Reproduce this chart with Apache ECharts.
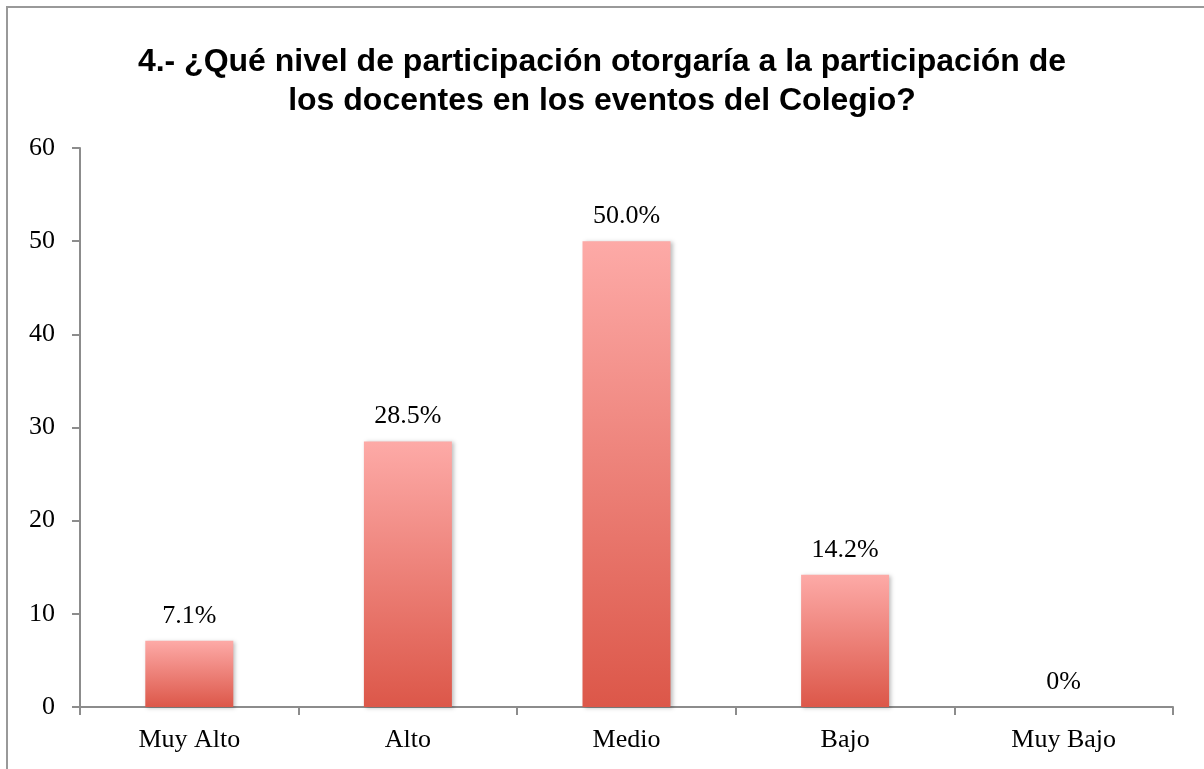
<!DOCTYPE html>
<html>
<head>
<meta charset="utf-8">
<script src="https://cdn.jsdelivr.net/npm/echarts@6/dist/echarts.min.js"></script>
<style>
    html, body { margin: 0; padding: 0; background: #fff; }
    #chart { width: 1204px; height: 769px; }
</style>
</head>
<body>
<div id="chart"></div>
<script>
const categories = ['Muy Alto', 'Alto', 'Medio', 'Bajo', 'Muy Bajo']
const values = [7.1, 28.5, 50.0, 14.2, 0]
const valueLabels = ['7.1%', '28.5%', '50.0%', '14.2%', '0%']
const titleText = '4.- ¿Qué nivel de participación otorgaría a la participación de\nlos docentes en los eventos del Colegio?'

const serif = 'Liberation Serif'
const chart = echarts.init(document.getElementById('chart'))
chart.setOption({
    animation: false,
    title: {
        text: titleText,
        left: 'center',
        top: 38,
        textStyle: {
            fontFamily: 'Liberation Sans',
            fontWeight: 'bold',
            fontSize: 32,
            lineHeight: 39,
            color: '#000'
        }
    },
    graphic: [{
        type: 'rect',
        shape: { x: 7, y: 7, width: 1400, height: 900 },
        style: { fill: 'none', stroke: '#999', lineWidth: 2 },
        silent: true
    }],
    grid: {
        left: 80,
        right: 31,
        top: 148,
        bottom: 62
    },
    xAxis: {
        type: 'category',
        data: categories,
        axisLine: { lineStyle: { color: '#8c8c8c', width: 2 } },
        axisTick: { show: true, length: 8, alignWithLabel: false, lineStyle: { color: '#8c8c8c', width: 2 } },
        axisLabel: { fontFamily: serif, fontSize: 26, color: '#000', margin: 20 }
    },
    yAxis: {
        type: 'value',
        min: 0,
        max: 60,
        interval: 10,
        splitLine: { show: false },
        axisLine: { show: true, lineStyle: { color: '#8c8c8c', width: 2 } },
        axisTick: { show: true, length: 8, lineStyle: { color: '#8c8c8c', width: 2 } },
        axisLabel: { fontFamily: serif, fontSize: 26, color: '#000', margin: 25 }
    },
    series: [{
        type: 'bar',
        data: values,
        barWidth: 88,
        itemStyle: {
            color: new echarts.graphic.LinearGradient(0, 0, 0, 1, [
                { offset: 0, color: '#fdaaa7' },
                { offset: 1, color: '#dc5749' }
            ]),
            shadowBlur: 4,
            shadowOffsetX: 2,
            shadowOffsetY: 1,
            shadowColor: 'rgba(0,0,0,0.25)'
        },
        label: {
            show: true,
            position: 'top',
            distance: 12,
            fontFamily: serif,
            fontSize: 26,
            color: '#000',
            formatter: p => valueLabels[p.dataIndex]
        }
    }]
})
</script>
</body>
</html>
